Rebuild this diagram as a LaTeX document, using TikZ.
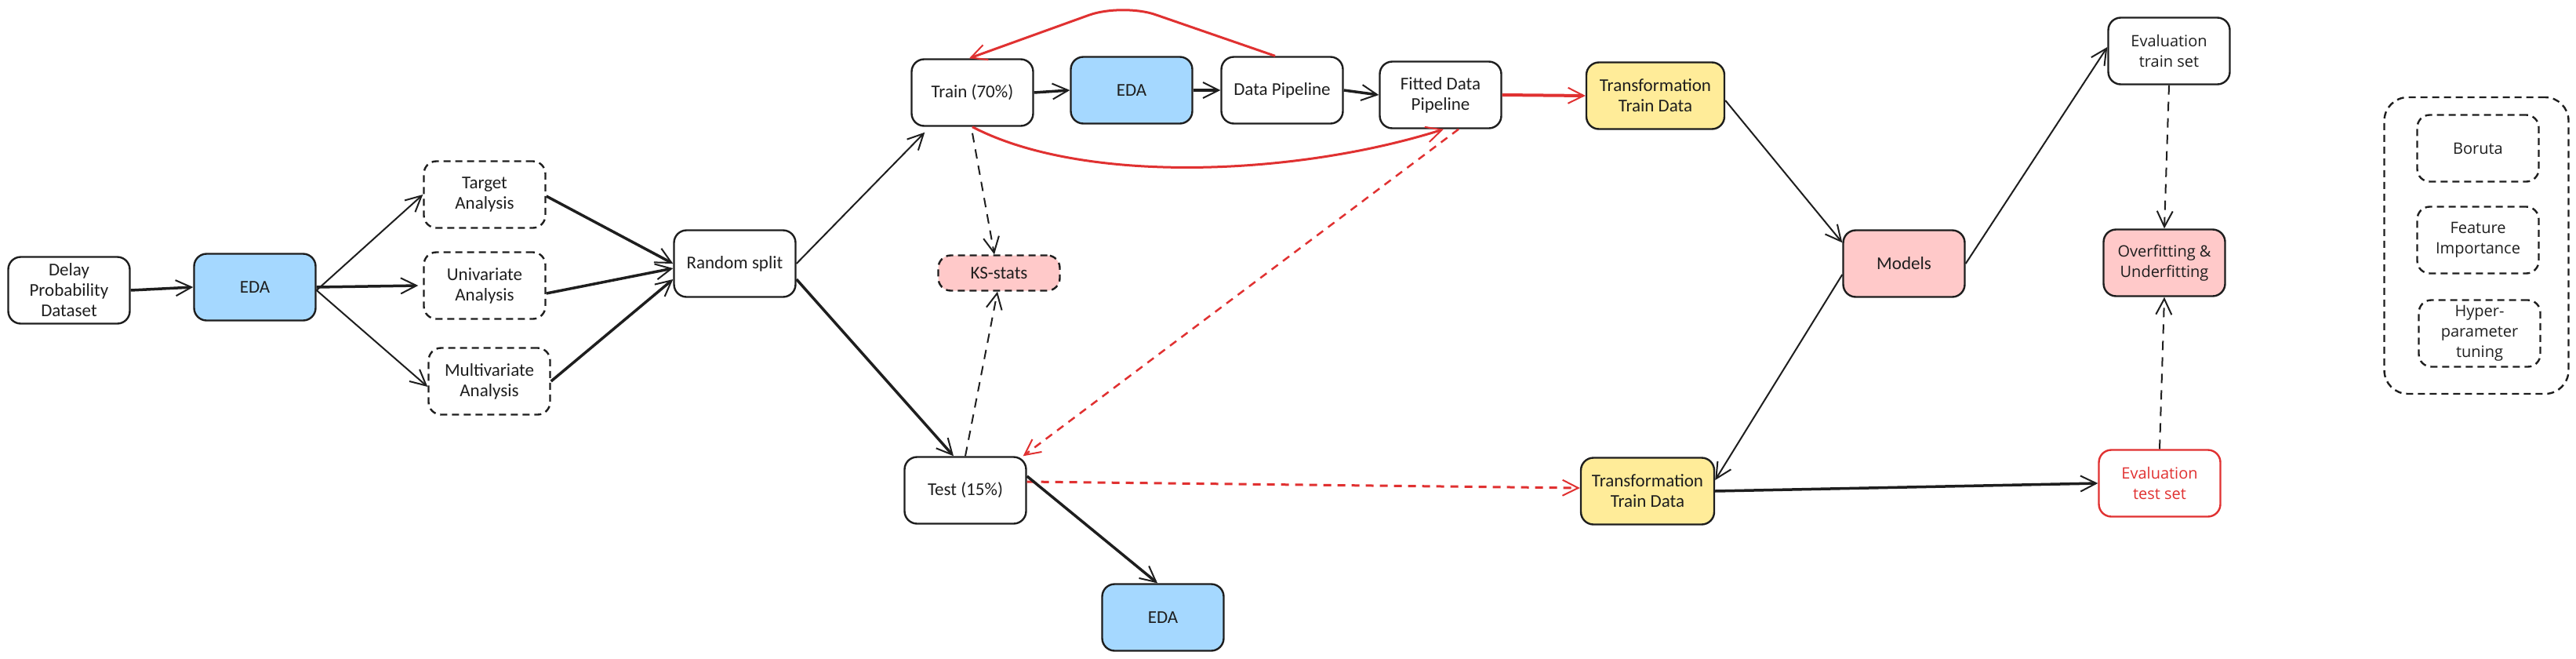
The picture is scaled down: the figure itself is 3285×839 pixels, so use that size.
\documentclass[tikz,border=0pt]{standalone}
\usepackage{fontspec}
\setmainfont{Carlito}
\newfontfamily\rfont{Open Sans}
\usetikzlibrary{arrows.meta,calc}
\definecolor{ink}{HTML}{1E1E1E}
\definecolor{bluefill}{HTML}{A5D8FF}
\definecolor{yellowfill}{HTML}{FFEC99}
\definecolor{pinkfill}{HTML}{FFC9C9}
\definecolor{redink}{HTML}{E03131}
\tikzset{
  box/.style={draw=ink, line width=2.4pt, rounded corners=16pt, minimum width=155pt,
    minimum height=85pt, align=center, inner sep=0pt, text=ink,
    font=\fontsize{23}{26}\selectfont},
  rbox/.style={box, font=\rfont\fontsize{20}{26}\selectfont},
  dbox/.style={box, dash pattern=on 9pt off 6pt},
  rdbox/.style={rbox, dash pattern=on 9pt off 6pt},
  blue/.style={fill=bluefill},
  yellow/.style={fill=yellowfill},
  pink/.style={fill=pinkfill},
  tip/.style={-{Straight Barb[length=20pt,width=20pt,line width=2pt]}},
  arr/.style={tip, draw=ink, line width=2pt},
  tarr/.style={tip, draw=ink, line width=3.5pt},
  darr/.style={arr, dash pattern=on 12pt off 9pt},
  rarr/.style={tip, draw=redink, line width=3pt},
  rdarr/.style={rarr, line width=2.5pt, dash pattern=on 10pt off 8pt},
}
\begin{document}
\begin{tikzpicture}[x=1pt,y=-1pt]
\useasboundingbox (0,0) rectangle (3285,839);
% nodes
\node[box] (delay) at (88,370) {Delay\\Probability\\Dataset};
\node[box,blue] (eda1) at (325,366) {EDA};
\node[dbox] (target) at (618,248) {Target\\Analysis};
\node[dbox] (uni) at (618,364) {Univariate\\Analysis};
\node[dbox] (multi) at (624,486) {Multivariate\\Analysis};
\node[box] (random) at (937,336) {Random split};
\node[box] (train) at (1240,118) {Train (70\%)};
\node[box,blue] (eda2) at (1443,115) {EDA};
\node[box] (dp) at (1635,115) {Data Pipeline};
\node[box] (fitted) at (1837,121) {Fitted Data\\Pipeline};
\node[box,yellow,minimum width=176pt] (trtop) at (2111,122) {Transformation\\Train Data};
\node[dbox,pink,minimum height=45pt] (ks) at (1274,348) {KS-stats};
\node[box] (test) at (1231,625) {Test (15\%)};
\node[box,blue] (eda3) at (1483,787) {EDA};
\node[box,yellow,minimum width=170pt] (trbot) at (2101,626) {Transformation\\Train Data};
\node[box,pink] (models) at (2428,336) {Models};
\node[rbox] (evtrain) at (2766,65) {Evaluation\\train set};
\node[rbox,pink] (overfit) at (2760,335) {Overfitting \&\\Underfitting};
\node[rbox,draw=redink,text=redink] (evtest) at (2754,616) {Evaluation\\test set};
\node[rdbox,minimum width=235pt,minimum height=378pt,rounded corners=30pt] (group) at (3158,313) {};
\node[rdbox] (boruta) at (3160,189) {Boruta};
\node[rdbox] (feat) at (3160,306) {Feature\\Importance};
\node[rdbox] (hyper) at (3162,425) {Hyper-\\parameter\\tuning};
\coordinate (peak) at (1431,4);
% connectors
\draw[tarr] (delay.east) -- (eda1.west);
\draw[arr] ([yshift=-4pt]eda1.east) -- (target.west);
\draw[tarr] (eda1.east) -- ([xshift=-6pt]uni.west);
\draw[arr] ([yshift=-4pt]eda1.east) -- ([yshift=-7pt]multi.west);
\draw[tarr] ([yshift=-2pt]target.east) -- (random.west);
\draw[tarr] ([yshift=-10pt]uni.east) -- ([yshift=-6pt]random.west);
\draw[tarr] (multi.east) -- ([yshift=-20pt]random.west);
\draw[arr] (random.east) -- ([xshift=18pt,yshift=-7pt]train.south west);
\draw[tarr] ([yshift=-20pt]random.east) -- ([xshift=-15pt]test.north);
\draw[tarr] (train.east) -- (eda2.west);
\draw[tarr] (eda2.east) -- (dp.west);
\draw[tarr] (dp.east) -- (fitted.west);
\draw[rarr, rounded corners=45pt] ([xshift=-9pt]dp.north) -- (peak) -- ([xshift=-4pt]train.north);
\draw[rarr] (train.south) .. controls (1380,235) and (1650,225) .. ([xshift=4pt]fitted.south);
\draw[rarr,line width=4pt] (fitted.east) -- (trtop.west);
\draw[darr] ([yshift=-8pt]train.south) -- ([xshift=-6pt]ks.north);
\draw[darr] (test.north) -- ([xshift=-2pt]ks.south);
\draw[rdarr] ([xshift=23pt]fitted.south) -- ([xshift=-5pt]test.north east);
\draw[rdarr,line width=3pt] ([yshift=11pt]test.east) -- ([yshift=4pt]trbot.west);
\draw[tarr] ([yshift=18pt]test.east) -- ([xshift=-7pt]eda3.north);
\draw[arr] ([yshift=-6pt]trtop.east) -- ([yshift=-17pt]models.north west);
\draw[arr] (models.east) -- ([yshift=5pt]evtrain.west);
\draw[arr] ([yshift=-14pt]models.west) -- ([yshift=14pt]trbot.east);
\draw[tarr] (trbot.east) -- (evtest.west);
\draw[darr] (evtrain.south) -- (overfit.north);
\draw[darr] (evtest.north) -- (overfit.south);
\end{tikzpicture}
\end{document}
